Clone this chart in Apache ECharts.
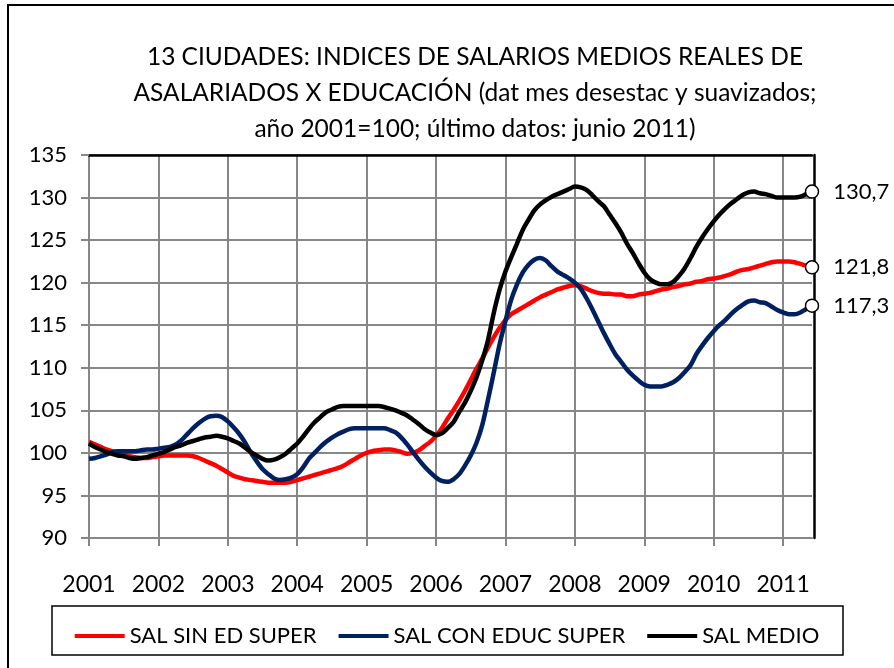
<!DOCTYPE html>
<html>
<head>
<meta charset="utf-8">
<script src="https://cdn.jsdelivr.net/npm/echarts@6/dist/echarts.min.js"></script>
<style>
  html, body { margin: 0; padding: 0; background: #fff; }
  #chart { width: 894px; height: 668px; }
</style>
</head>
<body>
<div id="chart"></div>
<script>
// datos mensuales: ene 2001 - jun 2011
var years = ['2001','2002','2003','2004','2005','2006','2007','2008','2009','2010','2011'];
var yTicks = [90, 95, 100, 105, 110, 115, 120, 125, 130, 135];

// SAL SIN ED SUPER
var salSinEd = [
  101.3,101.0,100.7,100.4,100.2,100.0,99.8,99.6,99.5,99.4,99.4,99.5,
  99.6,99.7,99.7,99.7,99.7,99.7,99.6,99.4,99.1,98.8,98.5,98.1,
  97.7,97.3,97.1,96.9,96.8,96.7,96.6,96.5,96.5,96.5,96.5,96.6,
  96.8,97.0,97.2,97.4,97.6,97.8,98.0,98.2,98.5,98.9,99.3,99.7,
  100.0,100.2,100.3,100.4,100.4,100.3,100.1,99.9,100.0,100.3,100.8,101.3,
  102.0,102.9,104.0,105.0,106.1,107.3,108.6,109.9,111.1,112.4,113.6,114.7,
  115.6,116.3,116.7,117.1,117.5,117.9,118.3,118.6,118.9,119.2,119.4,119.6,
  119.7,119.6,119.3,119.0,118.8,118.7,118.7,118.6,118.6,118.4,118.4,118.6,
  118.7,118.8,119.0,119.2,119.3,119.5,119.6,119.8,119.9,120.1,120.2,120.4,
  120.5,120.6,120.8,121.0,121.3,121.5,121.6,121.8,122.0,122.2,122.4,122.5,
  122.5,122.5,122.4,122.2,122.0,121.8
];

// SAL CON EDUC SUPER
var salConEduc = [
  99.3,99.4,99.6,99.8,100.1,100.2,100.2,100.2,100.2,100.3,100.4,100.4,
  100.5,100.6,100.7,101.0,101.5,102.2,102.9,103.5,104.0,104.3,104.35,104.2,
  103.7,103.0,102.2,101.2,100.0,99.0,98.1,97.5,97.0,96.8,96.9,97.1,
  97.5,98.3,99.3,100.0,100.7,101.3,101.8,102.2,102.5,102.8,102.9,102.9,
  102.9,102.9,102.9,102.9,102.7,102.4,101.8,101.0,100.1,99.2,98.4,97.7,
  97.1,96.7,96.6,96.9,97.5,98.5,99.7,101.2,103.3,106.3,109.5,112.8,
  115.5,118.0,119.8,121.2,122.1,122.7,122.9,122.6,121.9,121.3,120.9,120.5,
  120.0,119.3,118.2,116.9,115.5,114.1,112.8,111.6,110.7,109.8,109.1,108.5,
  108.0,107.8,107.8,107.8,108.0,108.3,108.8,109.5,110.3,111.6,112.6,113.5,
  114.3,115.0,115.6,116.3,116.9,117.4,117.8,117.9,117.7,117.6,117.2,116.8,
  116.5,116.3,116.3,116.5,116.9,117.3
];

// SAL MEDIO
var salMedio = [
  101.1,100.7,100.4,100.1,99.9,99.7,99.6,99.4,99.3,99.4,99.5,99.7,
  99.9,100.1,100.4,100.7,100.9,101.2,101.4,101.6,101.8,101.9,102.0,101.9,
  101.7,101.4,101.1,100.6,100.1,99.7,99.3,99.1,99.2,99.5,99.9,100.5,
  101.1,101.9,102.8,103.6,104.2,104.8,105.1,105.4,105.5,105.5,105.5,105.5,
  105.5,105.5,105.5,105.4,105.2,105.0,104.7,104.4,103.9,103.4,102.8,102.4,
  102.1,102.3,102.9,103.6,104.8,105.9,107.3,108.9,110.9,113.3,116.5,119.2,
  121.3,123.0,124.6,126.2,127.4,128.5,129.2,129.7,130.1,130.4,130.7,131.0,
  131.3,131.2,130.9,130.3,129.6,129.0,128.0,127.0,125.9,124.6,123.5,122.3,
  121.2,120.4,120.0,119.8,119.8,120.1,120.8,121.7,122.9,124.2,125.3,126.3,
  127.2,128.0,128.7,129.3,129.8,130.3,130.6,130.7,130.5,130.4,130.2,130.0,
  130.0,130.0,130.0,130.1,130.4,130.7
];

// categorias mensuales
var months = [];
years.forEach(function (y) {
  for (var m = 1; m <= 12; m++) {
    months.push(y + '-' + (m < 10 ? '0' + m : m));
  }
});
months = months.slice(0, salMedio.length);

var FONT = 'Lato';
var GRIS = '#878787';

function isYear(index) { return index % 12 === 0; }

// ultimo punto con circulo y etiqueta
function withEnd(arr) {
  var out = arr.slice(0, arr.length - 1);
  var last = arr[arr.length - 1];
  out.push({
    value: last,
    symbol: 'circle',
    symbolSize: 13,
    itemStyle: { color: '#fff', borderColor: '#000', borderWidth: 1.5 },
    label: {
      show: true,
      position: 'right',
      distance: 14,
      fontFamily: FONT,
      fontSize: 22,
      color: '#000',
      formatter: function (p) { return p.value.toFixed(1).replace('.', ','); }
    }
  });
  return out;
}

function lineSerie(name, data, color) {
  return {
    name: name,
    type: 'line',
    data: withEnd(data),
    smooth: 0.3,
    symbol: 'none',
    showAllSymbol: true,
    clip: false,
    lineStyle: { color: color, width: 4.5 },
    itemStyle: { color: color },
    emphasis: { disabled: true }
  };
}

var chart = echarts.init(document.getElementById('chart'));

var option = {
  animation: false,
  backgroundColor: '#fff',
  title: {
    text: '13 CIUDADES: INDICES DE SALARIOS MEDIOS REALES DE\nASALARIADOS X EDUCACIÓN (dat mes desestac y suavizados;\naño 2001=100; último datos: junio 2011)',
    left: 470,
    top: 34,
    textAlign: 'center',
    textStyle: {
      fontFamily: FONT,
      fontSize: 24.5,
      fontWeight: 'normal',
      color: '#000',
      lineHeight: 36
    }
  },
  legend: {
    left: 'center',
    top: 620,
    icon: 'rect',
    itemWidth: 50,
    itemHeight: 4,
    itemGap: 22,
    textStyle: { fontFamily: FONT, fontSize: 22, color: '#000' },
    data: ['SAL SIN ED SUPER', 'SAL CON EDUC SUPER', 'SAL MEDIO']
  },
  graphic: [
    {
      type: 'rect',
      shape: { x: 8, y: 5, width: 900, height: 700 },
      style: { fill: 'none', stroke: '#000', lineWidth: 2 },
      silent: true
    },
    {
      type: 'rect',
      shape: { x: 52, y: 606, width: 791, height: 49 },
      style: { fill: 'none', stroke: '#000', lineWidth: 1.5 },
      silent: true
    }
  ],
  grid: { left: 89, right: 82, top: 155, bottom: 130 },
  xAxis: [
    {
      type: 'category',
      data: months,
      boundaryGap: false,
      axisLine: { lineStyle: { color: GRIS, width: 2 } },
      axisTick: { interval: isYear, length: 8, lineStyle: { color: GRIS, width: 2 } },
      axisLabel: {
        interval: isYear,
        margin: 35,
        fontFamily: FONT,
        fontSize: 23,
        color: '#000',
        formatter: function (v) { return v.slice(0, 4); }
      },
      splitLine: { show: true, interval: isYear, lineStyle: { color: GRIS, width: 2 } }
    },
    {
      type: 'category',
      data: months,
      boundaryGap: false,
      position: 'top',
      axisLine: { show: true, lineStyle: { color: '#000', width: 2.5 } },
      axisTick: { show: false },
      axisLabel: { show: false },
      splitLine: { show: false }
    }
  ],
  yAxis: [
    {
      type: 'value',
      min: yTicks[0],
      max: yTicks[yTicks.length - 1],
      interval: 5,
      axisLine: { show: true, lineStyle: { color: GRIS, width: 2 } },
      axisTick: { show: true, length: 8, lineStyle: { color: GRIS, width: 2 } },
      axisLabel: { margin: 22, fontFamily: FONT, fontSize: 22, color: '#000' },
      splitLine: { show: true, lineStyle: { color: GRIS, width: 2 } }
    },
    {
      type: 'value',
      min: yTicks[0],
      max: yTicks[yTicks.length - 1],
      interval: 5,
      position: 'right',
      offset: 2,
      axisLine: { show: true, lineStyle: { color: '#000', width: 2.5 } },
      axisTick: { show: false },
      axisLabel: { show: false },
      splitLine: { show: false }
    }
  ],
  series: [
    lineSerie('SAL SIN ED SUPER', salSinEd, '#ff0000'),
    lineSerie('SAL CON EDUC SUPER', salConEduc, '#002060'),
    lineSerie('SAL MEDIO', salMedio, '#000000')
  ]
};

chart.setOption(option);
window.onresize = function () { chart.resize(); };
</script>
</body>
</html>
